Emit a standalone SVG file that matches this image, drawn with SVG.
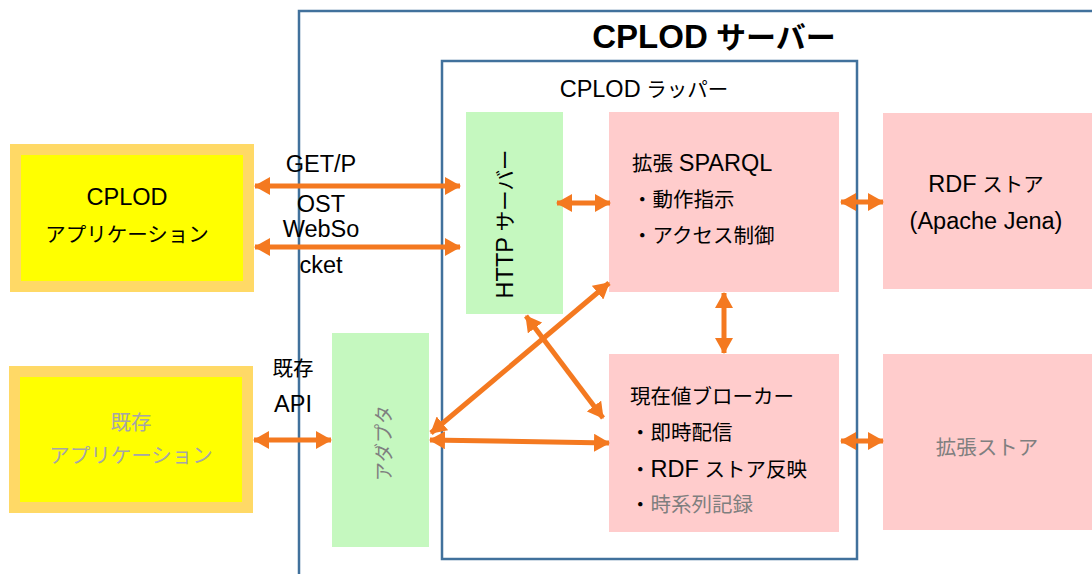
<svg xmlns="http://www.w3.org/2000/svg" width="1092" height="574" viewBox="0 0 1092 574">
<style>
text{font-family:"Liberation Sans","Noto Sans CJK JP",sans-serif;fill:#000}
.t20{font-size:20.5px}
.l{font-size:23.5px}
.gray{fill:#7f7f7f}
.lgray{fill:#a6a6a6}
.frame{fill:none;stroke:#41719C;stroke-width:2.5}
.app{fill:#FFFF00;stroke:#FFD966;stroke-width:11}
.green{fill:#C5F8BF}
.pink{fill:#FFCCCC}
.con{stroke:#F47920;stroke-width:5;fill:none;marker-start:url(#h);marker-end:url(#h)}
</style>
<defs>
<marker id="h" viewBox="0 0 16 18" refX="15" refY="9" markerWidth="16" markerHeight="18" markerUnits="userSpaceOnUse" orient="auto-start-reverse">
<path d="M0,0 L16,9 L0,18 Z" fill="#F47920"/>
</marker>
</defs>
<g id="server">
<rect class="frame" x="299" y="11" width="820" height="600"/>
<text x="714" y="48" font-size="30" font-weight="bold" text-anchor="middle"><tspan font-size="33">CPLOD</tspan> サーバー</text>
</g>
<g id="wrapper">
<rect class="frame" x="442" y="61" width="415" height="498"/>
<text class="t20" x="644" y="97" text-anchor="middle"><tspan class="l">CPLOD</tspan> ラッパー</text>
</g>
<g id="cplod-app">
<rect class="app" x="15.5" y="149.5" width="233" height="137"/>
<text class="l" x="127" y="205" text-anchor="middle">CPLOD</text>
<text class="t20" x="127" y="242" text-anchor="middle">アプリケーション</text>
</g>
<g id="legacy-app">
<rect class="app" x="14.5" y="371.5" width="233" height="136"/>
<text class="t20 lgray" x="131" y="430" text-anchor="middle">既存</text>
<text class="t20 lgray" x="131" y="463" text-anchor="middle">アプリケーション</text>
</g>
<g id="http-server">
<rect class="green" x="466" y="112" width="97" height="202"/>
<text class="t20" transform="translate(513,224) rotate(-90)" text-anchor="middle"><tspan class="l">HTTP</tspan> サーバー</text>
</g>
<g id="adapter">
<rect class="green" x="332" y="333" width="97" height="214"/>
<text class="gray" font-size="19" transform="translate(391,443) rotate(-90)" text-anchor="middle">アダプタ</text>
</g>
<g id="sparql">
<rect class="pink" x="609" y="112" width="230" height="180"/>
<text class="t20" x="632" y="171">拡張 <tspan class="l">SPARQL</tspan></text>
<text class="t20" x="632" y="207">・動作指示</text>
<text class="t20" x="632" y="243">・アクセス制御</text>
</g>
<g id="broker">
<rect class="pink" x="609" y="354" width="230" height="178"/>
<text class="t20" x="630" y="404">現在値ブローカー</text>
<text class="t20" x="630" y="440">・即時配信</text>
<text class="t20" x="630" y="477">・<tspan class="l">RDF</tspan> ストア反映</text>
<text class="t20" x="630" y="512">・<tspan class="gray">時系列記録</tspan></text>
</g>
<g id="rdf-store">
<rect class="pink" x="883" y="113" width="215" height="176"/>
<text class="t20" x="986" y="192" text-anchor="middle"><tspan class="l">RDF</tspan> ストア</text>
<text class="l" x="986" y="229" text-anchor="middle">(Apache Jena)</text>
</g>
<g id="ext-store">
<rect class="pink" x="883" y="354" width="215" height="176"/>
<text class="t20 gray" x="987" y="455" text-anchor="middle">拡張ストア</text>
</g>
<g id="connectors">
<line class="con" x1="255" y1="186" x2="460" y2="186"/>
<line class="con" x1="255" y1="247" x2="460" y2="247"/>
<line class="con" x1="557" y1="203" x2="610" y2="203"/>
<line class="con" x1="724" y1="293" x2="724" y2="353"/>
<line class="con" x1="841" y1="202" x2="883" y2="202"/>
<line class="con" x1="841" y1="441" x2="883" y2="441"/>
<line class="con" x1="254" y1="440" x2="331" y2="440"/>
<line class="con" x1="430" y1="440" x2="609" y2="443"/>
<line class="con" x1="431" y1="433" x2="609" y2="283"/>
<line class="con" x1="526" y1="316" x2="603" y2="418"/>
<text class="l" x="321" y="172" text-anchor="middle">GET/P</text>
<text class="l" x="321" y="212" text-anchor="middle">OST</text>
<text class="l" x="321" y="237" text-anchor="middle">WebSo</text>
<text class="l" x="321" y="273" text-anchor="middle">cket</text>
<text class="t20" x="293" y="376" text-anchor="middle">既存</text>
<text class="l" x="293" y="412" text-anchor="middle">API</text>
</g>
</svg>
